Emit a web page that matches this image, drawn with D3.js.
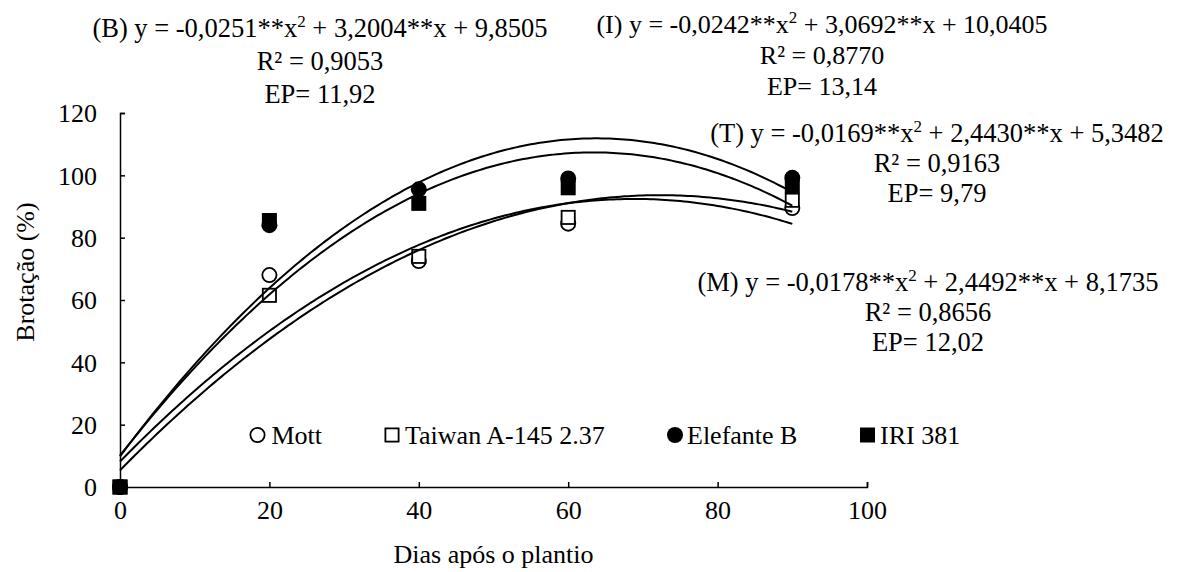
<!DOCTYPE html>
<html>
<head>
<meta charset="utf-8">
<script src="https://cdn.jsdelivr.net/npm/d3@7"></script>
<style>
  body { margin: 0; background: #fff; }
  svg { display: block; }
  text { font-family: "Liberation Serif", "Times New Roman", serif; fill: #000; }
</style>
</head>
<body>
<svg id="chart" width="1183" height="572"></svg>
<script>
// ---- data ----
const days = [0, 20, 40, 60, 90];
const mott = [0, 68, 72.5, 84.5, 89.5];
const taiwan = [0, 61.5, 74, 86.5, 92];
const elefante = [0, 84, 95.5, 99, 99.2];
const iri = [0, 85.5, 91, 96, 96.5];

const seriesNames = ["Mott", "Taiwan A-145 2.37", "Elefante B", "IRI 381"];
const seriesSymbols = ["circleOpen", "squareOpen", "circleFilled", "squareFilled"];

// regression coefficients [a, b, c] for y = a x^2 + b x + c
const coefB = [-0.0251, 3.2004, 9.8505];
const coefI = [-0.0242, 3.0692, 10.0405];
const coefT = [-0.0169, 2.4430, 5.3482];
const coefM = [-0.0178, 2.4492, 8.1735];

const eqB = ["(B) y = -0,0251**x", "2", " + 3,2004**x + 9,8505", "R² = 0,9053", "EP= 11,92"];
const eqI = ["(I) y = -0,0242**x", "2", " + 3,0692**x + 10,0405", "R² = 0,8770", "EP= 13,14"];
const eqT = ["(T) y = -0,0169**x", "2", " + 2,4430**x + 5,3482", "R² = 0,9163", "EP= 9,79"];
const eqM = ["(M) y = -0,0178**x", "2", " + 2,4492**x + 8,1735", "R² = 0,8656", "EP= 12,02"];

const xTicks = [0, 20, 40, 60, 80, 100];
const yTicks = [0, 20, 40, 60, 80, 100, 120];
const xTitle = "Dias após o plantio";
const yTitle = "Brotação (%)";

// ---- layout ----
const svg = d3.select("#chart");
const FS = 26;
const x = d3.scaleLinear().domain([0, 100]).range([120, 867]);
const y = d3.scaleLinear().domain([0, 120]).range([487, 113]);

// axes
const xAxis = d3.axisBottom(x).tickValues(xTicks).tickSizeInner(-5).tickSizeOuter(-5).tickPadding(14);
const yAxis = d3.axisLeft(y).tickValues(yTicks).tickSizeInner(-5).tickSizeOuter(-5).tickPadding(28);

const gx = svg.append("g").attr("transform", `translate(0,${y(0)})`).call(xAxis);
const gy = svg.append("g").attr("transform", `translate(${x(0)},0)`).call(yAxis);
[gx, gy].forEach(g => {
  g.attr("font-family", null);
  g.selectAll("path.domain").attr("stroke", "#000").attr("stroke-width", 1.5);
  g.selectAll(".tick line").attr("stroke", "#000").attr("stroke-width", 1.5);
  g.selectAll(".tick text").style("font-family", '"Liberation Serif", serif').style("font-size", FS + "px").attr("fill", "#000");
});
gy.selectAll(".tick text").attr("x", -23).attr("dy", "0.34em");
gx.selectAll(".tick text").attr("dy", "0.71em");

// markers
const allSeries = [mott, taiwan, elefante, iri];
const R = 8, S = 15;
allSeries.forEach((vals, i) => {
  const sym = seriesSymbols[i];
  const g = svg.append("g");
  days.forEach((d, j) => {
    drawSymbol(g, sym, x(d), y(vals[j]));
  });
});

function drawSymbol(g, sym, cx, cy) {
  if (sym === "circleOpen") {
    g.append("circle").attr("cx", cx).attr("cy", cy).attr("r", R - 0.9)
      .attr("fill", "#fff").attr("stroke", "#000").attr("stroke-width", 1.8);
  } else if (sym === "circleFilled") {
    g.append("circle").attr("cx", cx).attr("cy", cy).attr("r", R).attr("fill", "#000");
  } else if (sym === "squareOpen") {
    g.append("rect").attr("x", cx - S / 2 + 0.9).attr("y", cy - S / 2 + 0.9)
      .attr("width", S - 1.8).attr("height", S - 1.8)
      .attr("fill", "#fff").attr("stroke", "#000").attr("stroke-width", 1.8);
  } else {
    g.append("rect").attr("x", cx - S / 2).attr("y", cy - S / 2)
      .attr("width", S).attr("height", S).attr("fill", "#000");
  }
}

// regression curves
const curveX = d3.range(0, 90.01, 0.5);
const line = d3.line().x(d => x(d[0])).y(d => y(d[1]));
[coefB, coefI, coefT, coefM].forEach(c => {
  const pts = curveX.map(t => [t, c[0] * t * t + c[1] * t + c[2]]);
  svg.append("path").datum(pts).attr("d", line)
    .attr("fill", "none").attr("stroke", "#000").attr("stroke-width", 2);
});

// equations
function equation(eq, cx, baseY, gap, fs) {
  const t1 = svg.append("text").attr("x", cx).attr("y", baseY)
    .attr("text-anchor", "middle").style("font-size", fs + "px");
  t1.append("tspan").text(eq[0]);
  t1.append("tspan").attr("dy", -10).style("font-size", "17px").text(eq[1]);
  t1.append("tspan").attr("dy", 10).text(eq[2]);
  svg.append("text").attr("x", cx).attr("y", baseY + gap).attr("text-anchor", "middle")
    .style("font-size", fs + "px").text(eq[3]);
  svg.append("text").attr("x", cx).attr("y", baseY + 2 * gap).attr("text-anchor", "middle")
    .style("font-size", fs + "px").text(eq[4]);
}
equation(eqB, 320, 37, 33, 26.5);
equation(eqI, 822, 33, 31, 26);
equation(eqT, 937, 142, 30, 26.5);
equation(eqM, 928, 291, 30, 26.5);

// legend
const legendX = [257.5, 392, 675, 867.5];
const legendTx = [271.5, 405, 687, 880];
legendX.forEach((lx, i) => {
  const g = svg.append("g");
  drawSymbol(g, seriesSymbols[i], lx, 435);
  svg.append("text").attr("x", legendTx[i]).attr("y", 444).style("font-size", FS + "px").text(seriesNames[i]);
});

// axis titles
svg.append("text").attr("x", x(50)).attr("y", 563).attr("text-anchor", "middle")
  .style("font-size", FS + "px").text(xTitle);
svg.append("text").attr("transform", `translate(34,272) rotate(-90)`).attr("text-anchor", "middle")
  .style("font-size", FS + "px").text(yTitle);
</script>
</body>
</html>
